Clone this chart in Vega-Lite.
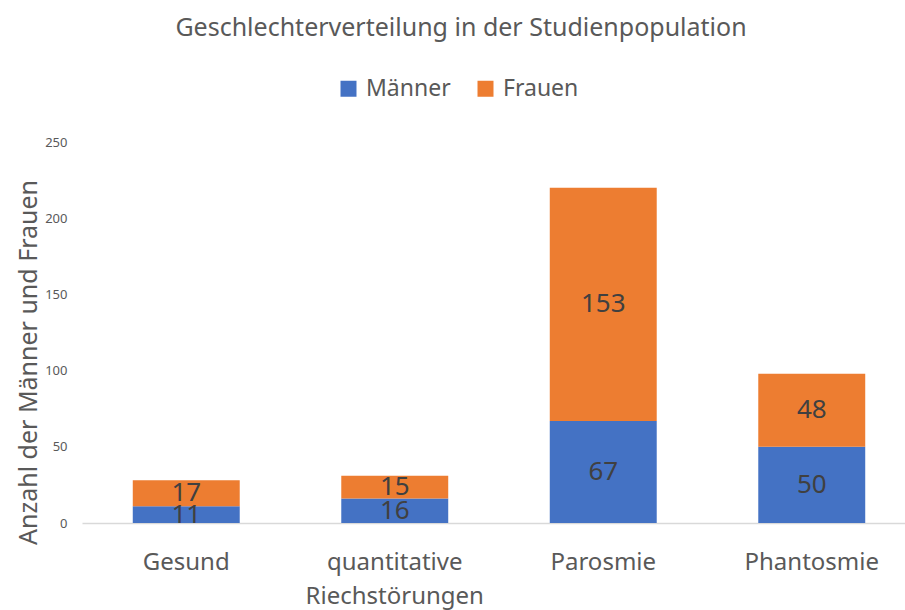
{
  "$schema": "https://vega.github.io/schema/vega-lite/v6.json",
  "autosize": {"type": "none"},
  "width": 834,
  "height": 381,
  "padding": {"left": 82, "top": 142, "right": 0, "bottom": 87},
  "background": "white",
  "config": {
    "view": {"stroke": null},
    "font": "Noto Sans"
  },
  "title": {
    "text": "Geschlechterverteilung in der Studienpopulation",
    "fontSize": 25,
    "font": "Noto Sans",
    "fontWeight": "normal",
    "color": "#595959",
    "anchor": "middle",
    "dx": -38,
    "offset": 36
  },
  "data": {
    "values": [
      {"Gruppe": "Gesund", "Geschlecht": "Männer", "Anzahl": 11},
      {"Gruppe": "Gesund", "Geschlecht": "Frauen", "Anzahl": 17},
      {"Gruppe": "quantitative Riechstörungen", "Geschlecht": "Männer", "Anzahl": 16},
      {"Gruppe": "quantitative Riechstörungen", "Geschlecht": "Frauen", "Anzahl": 15},
      {"Gruppe": "Parosmie", "Geschlecht": "Männer", "Anzahl": 67},
      {"Gruppe": "Parosmie", "Geschlecht": "Frauen", "Anzahl": 153},
      {"Gruppe": "Phantosmie", "Geschlecht": "Männer", "Anzahl": 50},
      {"Gruppe": "Phantosmie", "Geschlecht": "Frauen", "Anzahl": 48}
    ]
  },
  "transform": [
    {"stack": "Anzahl", "groupby": ["Gruppe"], "sort": [{"field": "Geschlecht", "order": "descending"}], "as": ["y0", "y1"]},
    {"calculate": "(datum.y0 + datum.y1) / 2", "as": "ymid"}
  ],
  "encoding": {
    "x": {
      "field": "Gruppe",
      "type": "nominal",
      "sort": ["Gesund", "quantitative Riechstörungen", "Parosmie", "Phantosmie"],
      "scale": {"paddingInner": 0.487, "paddingOuter": 0.2435},
      "axis": {
        "title": null,
        "labelAngle": 0,
        "labelFontSize": 24,
        "labelColor": "#595959",
        "labelFont": "Noto Sans",
        "labelPadding": 27,
        "labelLineHeight": 34,
        "labelBaseline": "top",
        "labelExpr": "datum.label == 'quantitative Riechstörungen' ? ['quantitative', 'Riechstörungen'] : datum.label",
        "ticks": false,
        "domainColor": "#d9d9d9",
        "domainWidth": 1.5,
        "grid": false
      }
    }
  },
  "layer": [
    {
      "mark": {"type": "bar"},
      "encoding": {
        "y": {
          "field": "y0",
          "type": "quantitative",
          "scale": {"domain": [0, 250], "nice": false},
          "axis": {
            "title": "Anzahl der Männer und Frauen",
            "titleFontSize": 25,
            "titleFont": "Noto Sans",
            "titleFontWeight": "normal",
            "titleColor": "#595959",
            "titleX": -54,
            "titleY": 220,
            "titleAngle": -90,
            "titleAlign": "center",
            "titleBaseline": "middle",
            "values": [0, 50, 100, 150, 200, 250],
            "labelFontSize": 13,
            "labelColor": "#595959",
            "labelPadding": 15,
            "ticks": false,
            "domain": false,
            "grid": false
          }
        },
        "y2": {"field": "y1"},
        "color": {
          "field": "Geschlecht",
          "type": "nominal",
          "scale": {"domain": ["Männer", "Frauen"], "range": ["#4472C4", "#ED7D31"]},
          "legend": {
            "title": null,
            "orient": "none",
            "direction": "horizontal",
            "legendX": 255,
            "legendY": -65,
            "symbolType": "square",
            "symbolSize": 256,
            "symbolStrokeWidth": 0,
            "symbolOpacity": 1,
            "labelFontSize": 23,
            "labelColor": "#595959",
            "labelFont": "Noto Sans",
            "labelOffset": 6,
            "columnPadding": 23
          }
        }
      }
    },
    {
      "mark": {"type": "text", "fontSize": 26, "color": "#404040", "baseline": "middle", "font": "Noto Sans"},
      "encoding": {
        "y": {"field": "ymid", "type": "quantitative"},
        "text": {"field": "Anzahl", "type": "quantitative"}
      }
    }
  ]
}
